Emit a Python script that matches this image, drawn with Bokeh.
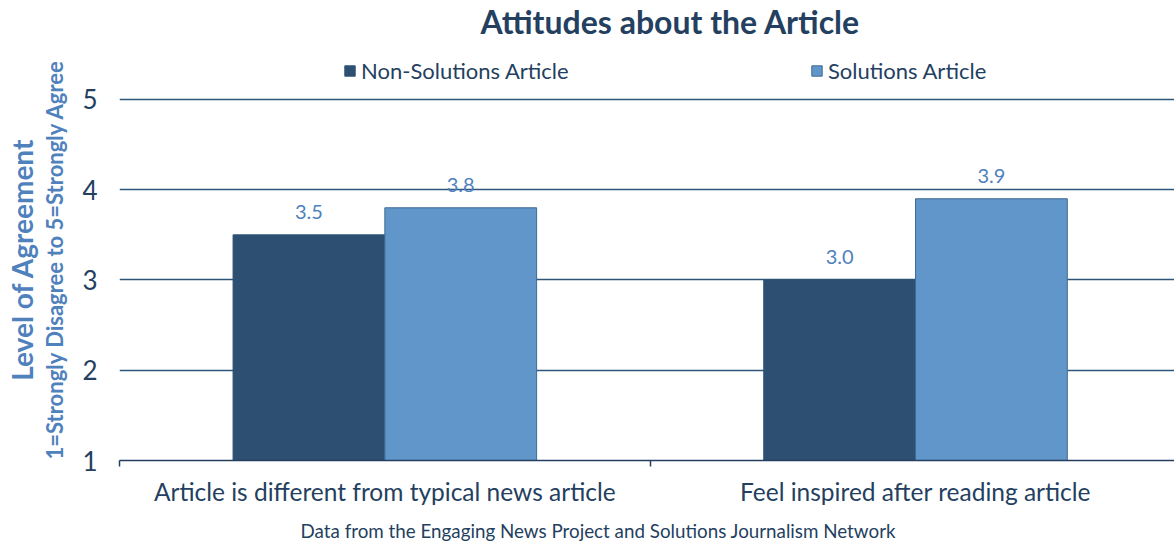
from bokeh.plotting import figure
from bokeh.models import (ColumnDataSource, FixedTicker, LinearAxis, Legend, Grid, Title,
                          LegendItem, LabelSet, Range1d)
from bokeh.core.properties import value
from bokeh.embed import file_html
from bokeh.resources import INLINE

categories = ["Article is different from typical news article", "Feel inspired after reading article"]
series_names = ["Non-Solutions Article", "Solutions Article"]
non_solutions = [3.5, 3.0]
solutions = [3.8, 3.9]
y_ticks = [1, 2, 3, 4, 5]

FONT = "Lato"
NAVY = "#243F60"
DARK = "#2D5072"
LIGHT = "#6096C9"
LABEL_BLUE = "#4F81BD"

centers = [0.5 + i for i in range(len(categories))]
bw = 0.286

p = figure(frame_width=1055, frame_height=402, output_backend="svg", toolbar_location=None,
           x_range=Range1d(0, 1.988), y_range=Range1d(1, 5.454),
           min_border_left=119, min_border_top=58, min_border_right=0, min_border_bottom=70,
           x_axis_type=None, y_axis_type=None)
p.outline_line_color = None
p.background_fill_color = "white"
p.border_fill_color = "white"
p.title = None

grid = Grid(dimension=1, ticker=FixedTicker(ticks=[2, 3, 4, 5]),
            grid_line_color="#2E557A", grid_line_width=1.5)
p.add_layout(grid)

src1 = ColumnDataSource(dict(x=[c - bw / 2 for c in centers], top=non_solutions,
                             lab=[f"{v:.1f}" for v in non_solutions]))
src2 = ColumnDataSource(dict(x=[c + bw / 2 for c in centers], top=solutions,
                             lab=[f"{v:.1f}" for v in solutions]))

r1 = p.vbar(x="x", top="top", bottom=1, width=bw, source=src1, fill_color=DARK, line_color=DARK, line_width=1)
r2 = p.vbar(x="x", top="top", bottom=1, width=bw, source=src2, fill_color=LIGHT, line_color="#3F6A92", line_width=1)

for src in (src1, src2):
    ls = LabelSet(x="x", y="top", text="lab", source=src, text_align="center", text_baseline="alphabetic",
                  y_offset=16, text_font=value(FONT), text_font_size="20px", text_color=LABEL_BLUE)
    p.add_layout(ls)

# y axis (ticks) with subtitle label
yax = LinearAxis(ticker=FixedTicker(ticks=y_ticks))
yax.axis_line_color = None
yax.major_tick_line_color = None
yax.major_tick_out = 0
yax.minor_tick_line_color = None
yax.major_label_text_font = FONT
yax.major_label_text_font_size = "26px"
yax.major_label_text_color = NAVY
yax.major_label_standoff = 22
yax.axis_label = "1=Strongly Disagree to 5=Strongly Agree"
yax.axis_label_text_font = FONT
yax.axis_label_text_font_size = "22px"
yax.axis_label_text_font_style = "bold"
yax.axis_label_text_color = LABEL_BLUE
yax.axis_label_standoff = 11
p.add_layout(yax, "left")

yax2 = LinearAxis(ticker=FixedTicker(ticks=[]))
yax2.axis_line_color = None
yax2.major_tick_line_color = None
yax2.major_tick_out = 0
yax2.major_label_standoff = 0
yax2.axis_label = "Level of Agreement"
yax2.axis_label_text_font = FONT
yax2.axis_label_text_font_size = "28px"
yax2.axis_label_text_font_style = "bold"
yax2.axis_label_text_color = LABEL_BLUE
yax2.axis_label_standoff = 0
p.add_layout(yax2, "left")

# x axis
xax = LinearAxis(ticker=FixedTicker(ticks=centers, minor_ticks=[0, 1, 2]))
xax.major_label_overrides = {c: cat for c, cat in zip(centers, categories)}
xax.axis_line_color = NAVY
xax.axis_line_width = 1.5
xax.major_tick_line_color = None
xax.major_tick_out = 0
xax.minor_tick_line_color = NAVY
xax.minor_tick_line_width = 1.5
xax.minor_tick_in = 0
xax.minor_tick_out = 6
xax.major_label_text_font = FONT
xax.major_label_text_font_size = "24.5px"
xax.major_label_text_color = NAVY
xax.major_label_standoff = 10
p.add_layout(xax, "below")

# footnote below the axis
foot = Title(text="Data from the Engaging News Project and Solutions Journalism Network",
             align="left", offset=181, text_font=FONT, text_font_size="18.8px",
             text_font_style="normal", text_color=NAVY, standoff=16)
p.add_layout(foot, "below")

# spacer between frame and title, then the title above it
spacer = Title(text=" ", text_font_size="1px", standoff=13)
p.add_layout(spacer, "above")
ttl = Title(text="Attitudes about the Article", align="left", offset=361, text_font=FONT,
            text_font_size="32px", text_font_style="bold", text_color=NAVY, standoff=0,
            vertical_align="top")
p.add_layout(ttl, "above")

# legends
leg1 = Legend(items=[LegendItem(label=series_names[0], renderers=[r1])], location=(224, 376))
leg2 = Legend(items=[LegendItem(label=series_names[1], renderers=[r2])], location=(691, 376))
for lg in (leg1, leg2):
    lg.orientation = "horizontal"
    lg.border_line_color = None
    lg.background_fill_alpha = 0
    lg.padding = 0
    lg.margin = 0
    lg.glyph_width = 13
    lg.glyph_height = 13
    lg.label_standoff = 5
    lg.label_text_font = FONT
    lg.label_text_font_size = "22px"
    lg.label_text_color = NAVY
    lg.label_height = 24
    p.add_layout(lg, "center")

open("out.html", "w").write(file_html(p, INLINE))
